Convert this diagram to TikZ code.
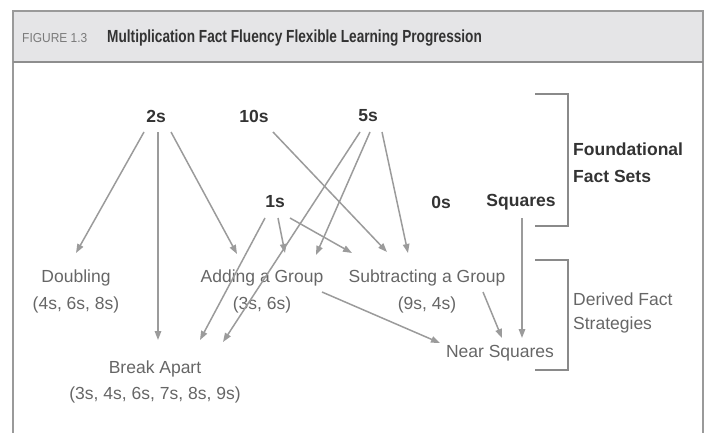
\documentclass[tikz,border=0pt]{standalone}
\usepackage{fontspec}
\setmainfont{Liberation Sans}
\usetikzlibrary{arrows.meta,calc}
\definecolor{framec}{HTML}{9A9A9A}
\definecolor{headc}{HTML}{E5E5E7}
\definecolor{sepc}{HTML}{8E8E8E}
\definecolor{figc}{HTML}{7A7A7A}
\definecolor{boldc}{HTML}{333333}
\definecolor{stratc}{HTML}{666666}
\definecolor{arrc}{HTML}{9B9B9B}
\definecolor{brkc}{HTML}{8A8A8A}
\begin{document}
\begin{tikzpicture}[x=1pt,y=-1pt,
  fset/.style={font=\fontsize{17.5}{20}\selectfont\bfseries, text=boldc, inner sep=0pt},
  strat/.style={font=\fontsize{17.5}{26.5}\selectfont, text=stratc, align=center, inner sep=0pt},
  arr/.style={draw=arrc, line width=1.5pt, -{Triangle[length=9pt,width=6.5pt]}},
  brk/.style={draw=brkc, line width=1.6pt},
]
\useasboundingbox (0,0) rectangle (711,433);
\clip (0,0) rectangle (711,433);
% frame and header
\fill[headc] (12.7,11) rectangle (703,62);
\draw[framec, line width=2pt] (12.7,445) -- (12.7,11) -- (703,11) -- (703,445);
\draw[sepc, line width=1.5pt] (12.7,62) -- (703,62);
\node[anchor=west, inner sep=0pt, text=figc] (fig) at (22,38.5) {\scalebox{0.92}[1]{\fontsize{13}{13}\selectfont FIGURE 1.3}};
\node[anchor=west, inner sep=0pt, text=boldc] (title) at (107,38) {\scalebox{0.78}[1]{\fontsize{17.5}{17.5}\selectfont\bfseries Multiplication Fact Fluency Flexible Learning Progression}};
% foundational fact sets
\node[fset] (n2) at (156,116) {2s};
\node[fset] (n10) at (254,116) {10s};
\node[fset] (n5) at (368,116) {5s};
\node[fset] (n1) at (275,202) {1s};
\node[fset] (n0) at (441,202) {0s};
\node[fset] (sq) at (521,202) {Squares};
\node[fset, anchor=west, align=left, font=\fontsize{17.5}{27}\selectfont\bfseries] (found) at (573,162.5) {Foundational\\Fact Sets};
% derived strategies
\node[strat] (dbl) at (76,291.5) {Doubling\\(4s, 6s, 8s)};
\node[strat] (add) at (262,291.5) {Adding a Group\\(3s, 6s)};
\node[strat] (sub) at (427,291.5) {Subtracting a Group\\(9s, 4s)};
\node[strat] (ba) at (155,382) {Break Apart\\(3s, 4s, 6s, 7s, 8s, 9s)};
\node[strat] (ns) at (500,353) {Near Squares};
\node[strat, anchor=west, align=left, font=\fontsize{17.5}{24}\selectfont] (der) at (573,313) {Derived Fact\\Strategies};
% brackets
\draw[brk] (535,94) -- (568,94) -- (568,226) -- (535,226);
\draw[brk] (535,260) -- (568,260) -- (568,370) -- (535,370);
% arrows
\draw[arr] ([shift={(-12,16)}]n2.center) -- ([shift={(0,-38.5)}]dbl.center);
\draw[arr] ([shift={(2,16)}]n2.center) -- ([shift={(3,-42)}]ba.center);
\draw[arr] ([shift={(15,16)}]n2.center) -- ([shift={(-25,-37.5)}]add.center);
\draw[arr] ([shift={(19,16)}]n10.center) -- ([shift={(-40,-39.5)}]sub.center);
\draw[arr] ([shift={(-8,16)}]n5.center) -- ([shift={(68,-40)}]ba.center);
\draw[arr] ([shift={(2,16)}]n5.center) -- ([shift={(54,-36.5)}]add.center);
\draw[arr] ([shift={(14,16)}]n5.center) -- ([shift={(-19,-38.5)}]sub.center);
\draw[arr] ([shift={(-10,16)}]n1.center) -- ([shift={(45,-42)}]ba.center);
\draw[arr] ([shift={(3,16)}]n1.center) -- ([shift={(23,-38.5)}]add.center);
\draw[arr] ([shift={(15,16)}]n1.center) -- ([shift={(-75,-38.5)}]sub.center);
\draw[arr] ([shift={(60,0.5)}]add.center) -- ([shift={(-60,-10)}]ns.center);
\draw[arr] ([shift={(56,0.5)}]sub.center) -- ([shift={(2,-15)}]ns.center);
\draw[arr] ([shift={(1,16)}]sq.center) -- ([shift={(22,-15)}]ns.center);
\end{tikzpicture}
\end{document}
